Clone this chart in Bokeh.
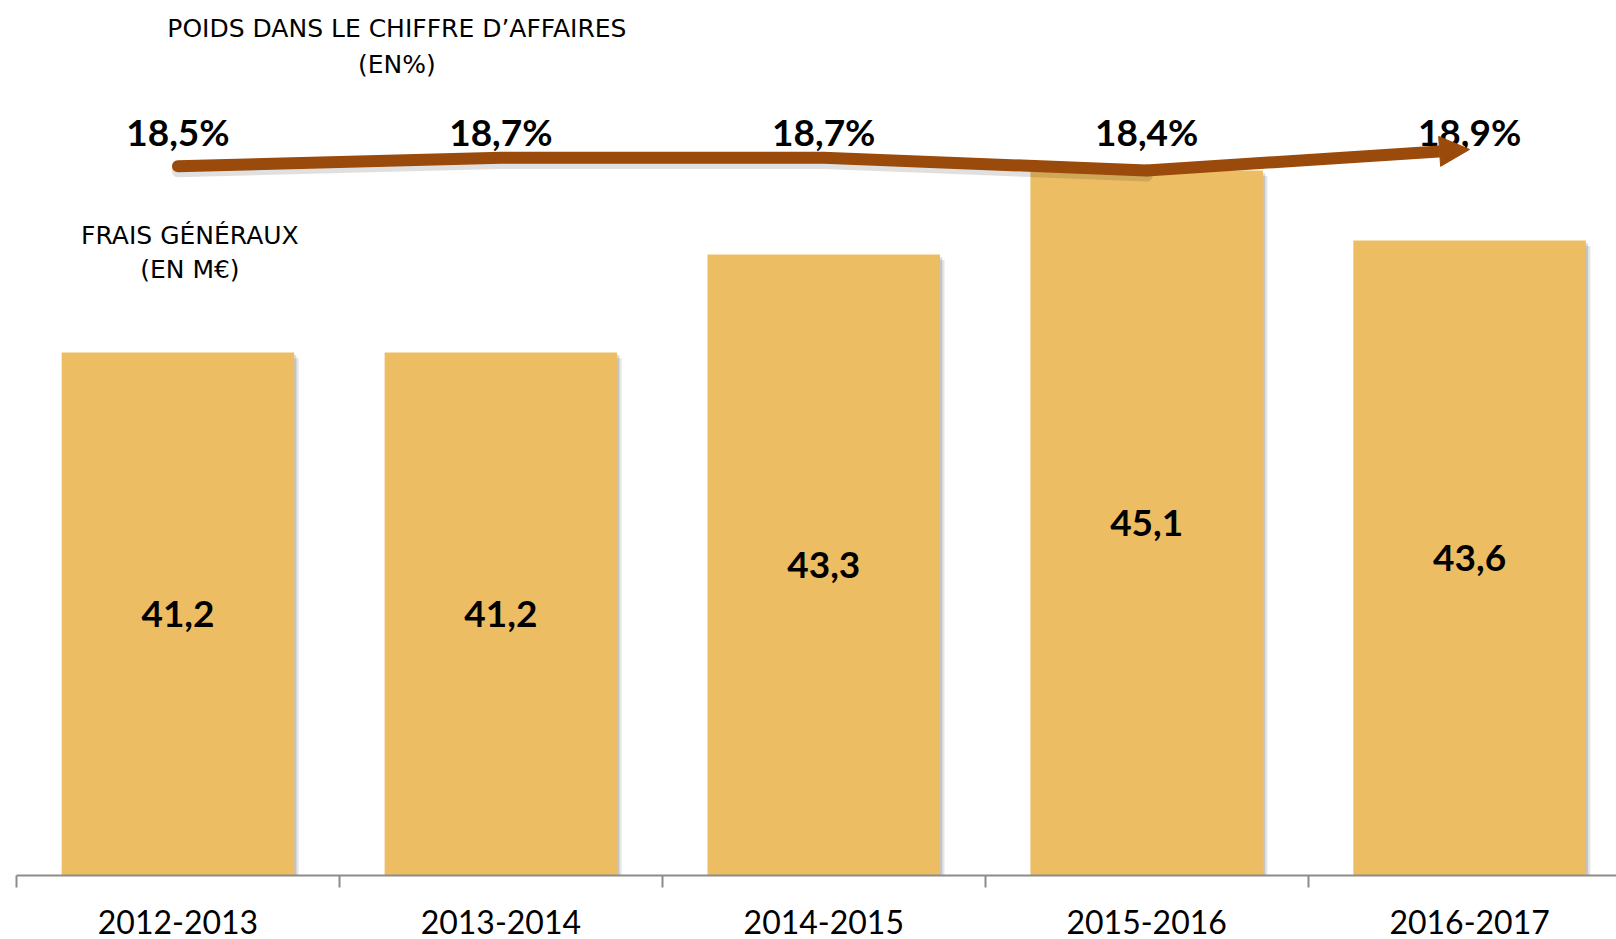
import numpy as np
from bokeh.plotting import figure
from bokeh.models import Range1d, FixedTicker, Arrow, NormalHead
from bokeh.core.properties import value
from bokeh.embed import file_html
from bokeh.resources import INLINE

categories = ["2012-2013", "2013-2014", "2014-2015", "2015-2016", "2016-2017"]
frais = [41.2, 41.2, 43.3, 45.1, 43.6]
frais_labels = ["41,2", "41,2", "43,3", "45,1", "43,6"]
poids = [18.5, 18.7, 18.7, 18.4, 18.9]
poids_labels = ["18,5%", "18,7%", "18,7%", "18,4%", "18,9%"]
title_lines = ["POIDS DANS LE CHIFFRE D’AFFAIRES", "(EN%)"]
frais_title = ["FRAIS GÉNÉRAUX", "(EN M€)"]

BAR = "#EDBD63"
BROWN = "#9A4A0B"
BASE = 30.0
Y_TOP = 48.74

xs = np.arange(len(categories), dtype=float)

p = figure(width=1616, height=939, output_backend="svg", toolbar_location=None,
           x_range=Range1d(-0.5, 4.455), y_range=Range1d(BASE, Y_TOP),
           y_axis_location=None, min_border_left=16, min_border_right=0,
           min_border_top=0, min_border_bottom=64)
p.outline_line_color = None
p.grid.visible = False

# secondary range for the percentage curve: main = 45.10 + (pct - 18.4) * 0.9
def pct_of(main):
    return 18.4 + (main - 45.10) / 0.9
p.extra_y_ranges = {"pct": Range1d(pct_of(BASE), pct_of(Y_TOP))}

xa = p.xaxis[0]
xa.ticker = FixedTicker(ticks=list(xs), minor_ticks=[-0.5] + list(xs[:-1] + 0.5))
xa.major_label_overrides = {float(i): c for i, c in zip(xs, categories)}
xa.major_tick_out = 0
xa.major_tick_in = 0
xa.minor_tick_out = 12
xa.minor_tick_in = 0
xa.minor_tick_line_color = "#8c8c8c"
xa.minor_tick_line_width = 2
xa.axis_line_color = "#8c8c8c"
xa.axis_line_width = 2
xa.major_label_text_font = "Lato"
xa.major_label_text_font_size = "32px"
xa.major_label_text_color = "black"
xa.major_label_standoff = 22

# bar shadows
p.vbar(x=xs + 0.014, top=np.array(frais) - 0.12, bottom=BASE, width=0.72,
       fill_color="black", fill_alpha=0.10, line_color=None)
p.vbar(x=xs + 0.007, top=np.array(frais) - 0.06, bottom=BASE, width=0.72,
       fill_color="black", fill_alpha=0.14, line_color=None)
# bars
p.vbar(x=xs, top=frais, bottom=BASE, width=0.72, fill_color=BAR, line_color=None)

# bar value labels (centered in bars)
p.text(x=xs, y=(BASE + np.array(frais)) / 2, text=frais_labels,
       text_align="center", text_baseline="middle",
       text_font=value("Lato"), text_font_style="bold", text_font_size="37px",
       text_color="black")

# percentage curve with arrow
p.line(x=xs[:4], y=np.array(poids[:4]) - 0.12, y_range_name="pct",
       line_color="black", line_alpha=0.12, line_width=12, line_cap="round", line_join="round")
p.line(x=xs[:4], y=poids[:4], y_range_name="pct", line_color=BROWN, line_width=12,
       line_cap="round", line_join="round")
p.add_layout(Arrow(x_start=xs[3], y_start=poids[3], x_end=xs[4], y_end=poids[4],
                   y_range_name="pct", line_color=BROWN, line_width=12,
                   end=NormalHead(size=30, fill_color=BROWN, line_color=BROWN, line_width=1)))

# percentage labels
p.text(x=xs, y=[45.93] * len(xs), text=poids_labels,
       text_align="center", text_baseline="middle",
       text_font=value("Lato"), text_font_style="bold", text_font_size="37px",
       text_color="black")

# titles
p.text(x=[0.678, 0.678], y=[48.14, 47.37], text=title_lines,
       text_align="center", text_baseline="middle",
       text_font=value("DejaVu Sans"), text_font_size="25px", text_color="black")
p.text(x=[0.037, 0.037], y=[43.70, 42.98], text=frais_title,
       text_align="center", text_baseline="middle",
       text_font=value("DejaVu Sans"), text_font_size="25px", text_color="black")

open("out.html", "w").write(file_html(p, INLINE))
